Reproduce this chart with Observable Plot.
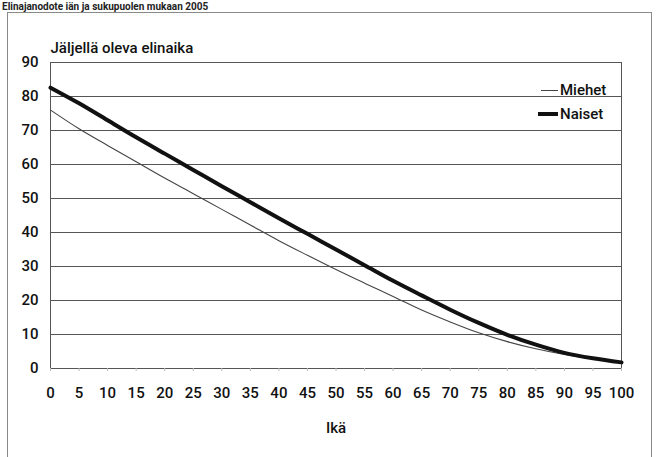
<!DOCTYPE html>
<html>
<head>
<meta charset="utf-8">
<script src="https://cdn.jsdelivr.net/npm/d3@7"></script>
<script src="https://cdn.jsdelivr.net/npm/@observablehq/plot@0.6"></script>
<style>
  html, body { margin: 0; padding: 0; background: #fff; }
  #wrap { position: relative; width: 660px; height: 457px; overflow: hidden; background: #fff;
          font-family: Roboto, "Liberation Sans", sans-serif; color: #111; }
  #box { position: absolute; left: 7px; top: 12px; width: 643px; height: 470px; border: 1px solid #8a8a8a; border-bottom: none; }
  #title { position: absolute; left: 2px; top: 1px; font-size: 10px; line-height: 11px; font-weight: bold; white-space: nowrap; color: #222; }
  #chart { position: absolute; left: 0; top: 0; }
  .leg { position: absolute; font-size: 15px; font-weight: 500; line-height: 16px; display: flex; align-items: center; white-space: nowrap; }
  .leg span.sw { display: inline-block; background: #111; margin-right: 2px; }
</style>
</head>
<body>
<div id="wrap">
  <div id="box"></div>
  <div id="title">Elinajanodote iän ja sukupuolen mukaan 2005</div>
  <div id="chart"></div>
  <div class="leg" style="left:541px; top:82px;"><span class="sw" style="width:17px;height:1px;background:#444"></span>Miehet</div>
  <div class="leg" style="left:538px; top:106px;"><span class="sw" style="width:20px;height:4px"></span>Naiset</div>
</div>
<script>
const ages = [0, 5, 10, 15, 20, 25, 30, 35, 40, 45, 50, 55, 60, 65, 70, 75, 80, 85, 90, 95, 100];
const miehet = [76.0, 70.5, 65.6, 60.8, 56.0, 51.4, 46.8, 42.2, 37.6, 33.3, 29.1, 25.1, 21.2, 17.2, 13.7, 10.5, 7.9, 5.8, 4.1, 2.8, 1.8];
const naiset = [82.6, 78.0, 73.0, 68.0, 63.2, 58.4, 53.6, 48.9, 44.2, 39.6, 35.0, 30.4, 25.8, 21.5, 17.3, 13.4, 9.9, 7.0, 4.6, 3.0, 1.8];
const xTicks = [0, 5, 10, 15, 20, 25, 30, 35, 40, 45, 50, 55, 60, 65, 70, 75, 80, 85, 90, 95, 100];
const yTicks = [0, 10, 20, 30, 40, 50, 60, 70, 80, 90];
const yLabel = "Jäljellä oleva elinaika";
const xLabel = "Ikä";

const dataM = ages.map((a, i) => ({ika: a, v: miehet[i]}));
const dataN = ages.map((a, i) => ({ika: a, v: naiset[i]}));

const chart = Plot.plot({
  width: 660,
  height: 457,
  marginLeft: 50,
  marginRight: 39,
  marginTop: 62,
  marginBottom: 89,
  style: {
    fontFamily: 'Roboto, "Liberation Sans", sans-serif',
    fontSize: "15px",
    fontWeight: 500,
    color: "#111",
    background: "transparent"
  },
  x: {domain: [0, 100], label: null},
  y: {domain: [0, 90], label: null},
  marks: [
    Plot.gridY(yTicks, {stroke: "#555", strokeOpacity: 1, strokeWidth: 1}),
    Plot.frame({stroke: "#555", strokeWidth: 1}),
    Plot.axisX(xTicks, {tickSize: 3, tickPadding: 16, stroke: "#bbb", label: null}),
    Plot.axisY(yTicks, {tickSize: 0, tickPadding: 12, label: null}),
    Plot.line(dataM, {x: "ika", y: "v", curve: "monotone-x", stroke: "#444", strokeWidth: 1.1}),
    Plot.line(dataN, {x: "ika", y: "v", curve: "monotone-x", stroke: "#111", strokeWidth: 4}),
    Plot.text([yLabel], {frameAnchor: "top-left", lineAnchor: "middle", dy: -14, textAnchor: "start", fontSize: 15, fill: "#111"}),
    Plot.text([xLabel], {frameAnchor: "bottom", lineAnchor: "middle", dy: 60, fontSize: 15, fill: "#111"})
  ]
});
document.getElementById("chart").appendChild(chart);
</script>
</body>
</html>
